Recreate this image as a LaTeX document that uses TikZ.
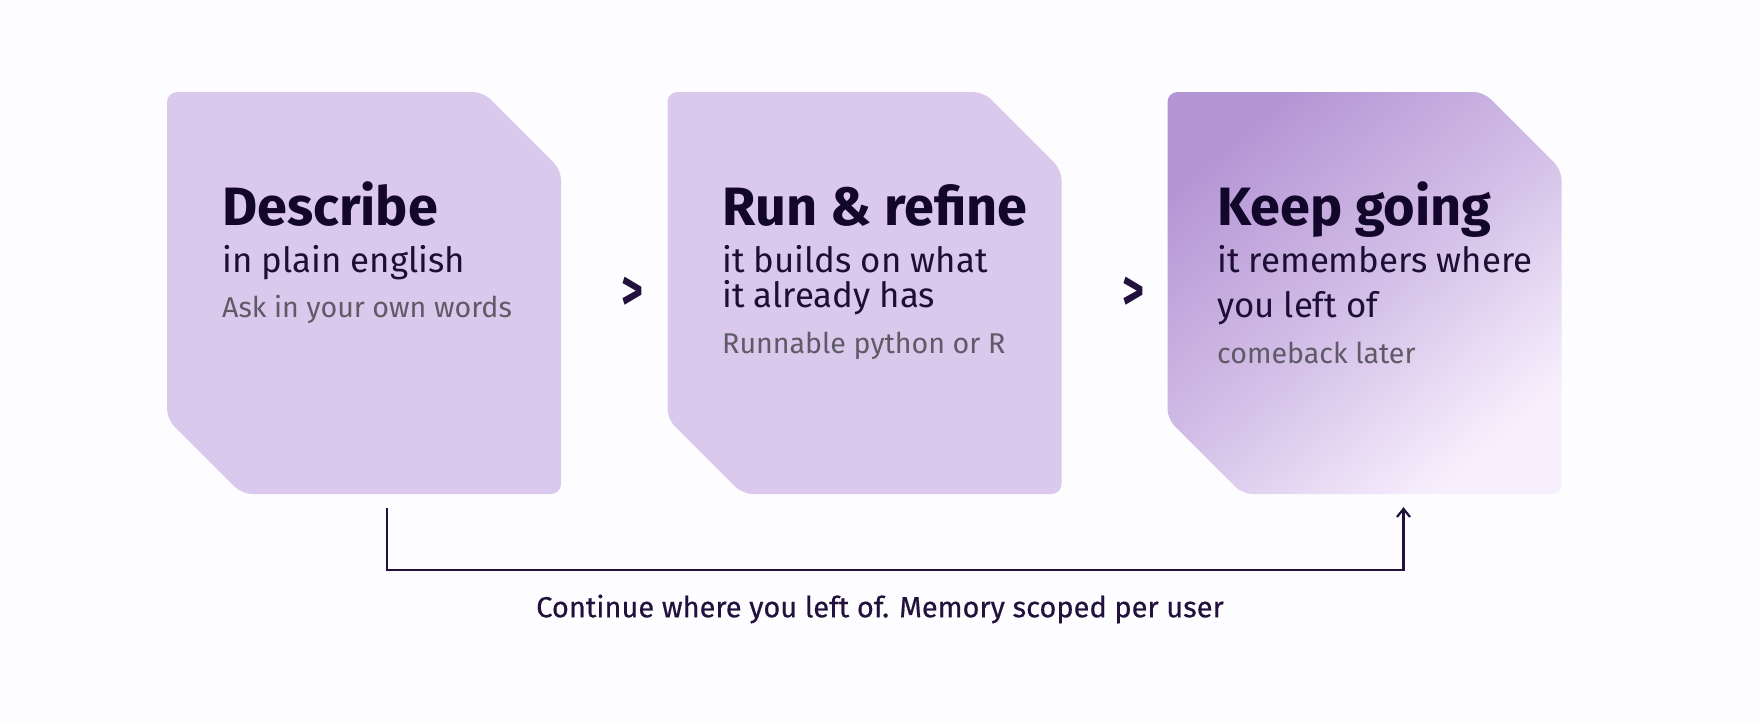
\documentclass[tikz,border=0pt]{standalone}
\usepackage{fontspec}
\setmainfont{Fira Sans}
\newfontfamily\medfont[FakeBold=0.5]{Fira Sans}
\usetikzlibrary{arrows.meta,calc}
\definecolor{bg}{HTML}{FDFCFE}
\definecolor{cardfill}{HTML}{DBC9ED}
\definecolor{gdark}{HTML}{B596D5}
\definecolor{glight}{HTML}{F7EFFD}
\definecolor{titlecol}{HTML}{12062A}
\definecolor{subcol}{HTML}{1C0F33}
\definecolor{graycol}{HTML}{5F5A66}
\definecolor{linecol}{HTML}{22103D}
\tikzset{
  card/.pic={\path[pic actions, rounded corners=10pt]
     (-197,-201) -- (119,-201) -- (197,-123) -- (197,201)
     -- (-122,201) -- (-197,126) -- cycle;},
  cardnode/.style={minimum width=394pt, minimum height=402pt, inner sep=0pt, draw=none},
  ttl/.style={anchor=base west, inner sep=0pt, text=titlecol, font=\fontsize{54}{60}\selectfont\bfseries},
  sub/.style={anchor=base west, inner sep=0pt, text=subcol, font=\fontsize{34.8}{40}\selectfont},
  ter/.style={anchor=base west, inner sep=0pt, text=graycol, font=\fontsize{28.6}{32}\selectfont},
  chev/.style={inner sep=0pt, text=linecol, font=\fontsize{40}{44}\selectfont\bfseries},
  conn/.style={draw=linecol, line width=2.2pt},
  caption/.style={inner sep=0pt, text=linecol, font=\fontsize{29}{32}\medfont}
}
\begin{document}
\begin{tikzpicture}[x=1pt,y=-1pt]
\fill[bg] (0,0) rectangle (1760,723);
\useasboundingbox (0,0) rectangle (1760,723);

% card placeholders
\node[cardnode] (b1) at (364,293) {};
\node[cardnode] (b2) at (864.5,293) {};
\node[cardnode] (b3) at (1364.5,293) {};

\pic[fill=cardfill] at (b1) {card};
\pic[fill=cardfill] at (b2) {card};
\pic[top color=gdark, bottom color=glight, middle color=gdark!55!glight, shading angle=40] at (b3) {card};

% card 1
\node[ttl] (t1) at (222,225) {Describe};
\node[sub] (s1) at (222,272) {in plain english};
\node[ter] (a1) at (222,317) {Ask in your own words};

% card 2
\node[ttl] (t2) at (722,225) {Run \& refine};
\node[sub] (s2a) at (722,272) {it builds on what};
\node[sub] (s2b) at (722,307) {it already has};
\node[ter] (a2) at (722,353) {Runnable python or R};

% card 3
\node[ttl] (t3) at (1217,225) {Keep going};
\node[sub] (s3a) at (1217,272) {it remembers where};
\node[sub] (s3b) at (1217,317) {you left of};
\node[ter] (a3) at (1217,363) {comeback later};

% chevrons
\node[chev] (c1) at (632,294) {\scalebox{1.05}[1.45]{>}};
\node[chev] (c2) at (1133,294) {\scalebox{1.05}[1.45]{>}};

% loop connector
\coordinate (cs) at ($(b1.south)+(23,14)$);
\coordinate (ce) at ($(b3.south)+(39,13)$);
\draw[conn, -{Straight Barb[length=8pt,width=13pt,line width=2.2pt]}]
  (cs) -- ($(cs)+(0,62)$) -| (ce);

\node[caption] (cap) at (880,609) {Continue where you left of. Memory scoped per user};
\end{tikzpicture}
\end{document}
